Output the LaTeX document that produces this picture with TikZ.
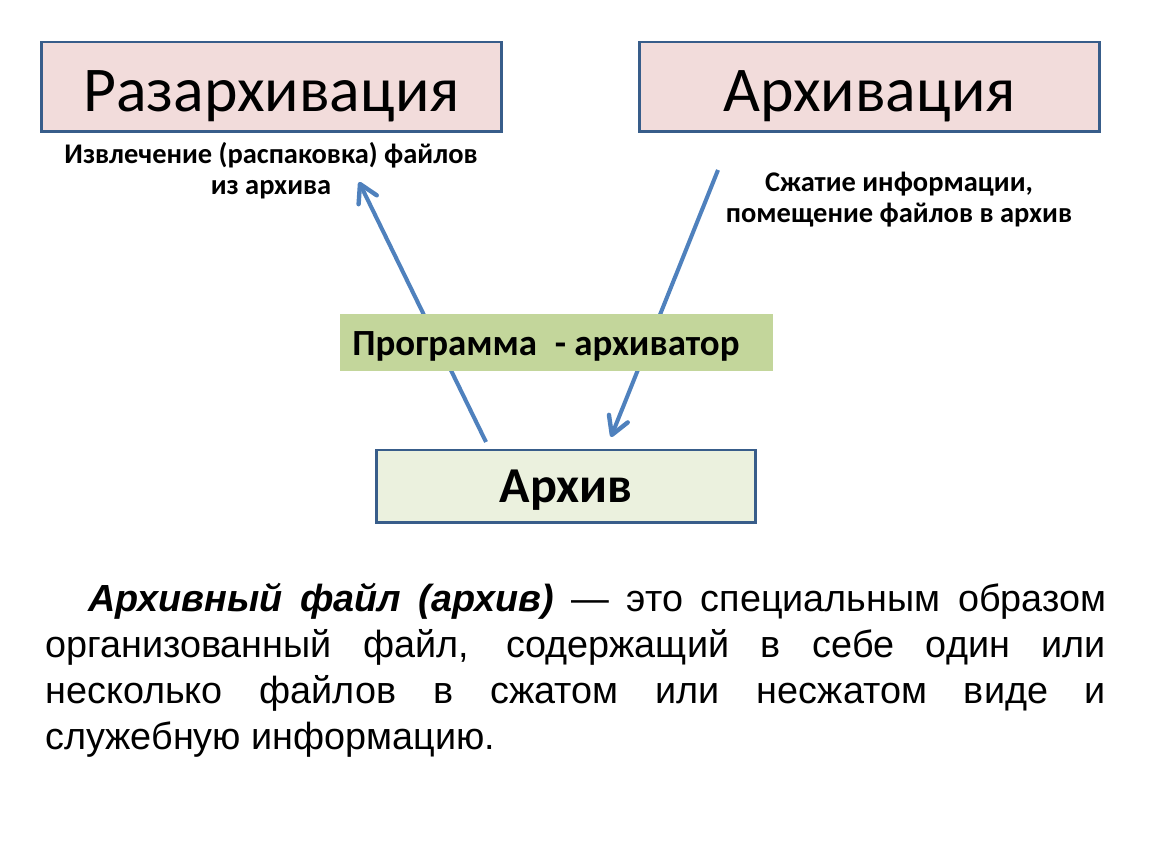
\documentclass[tikz,border=0pt]{standalone}
\usepackage{fontspec}
\setmainfont{Carlito}
\newfontfamily\arialf{Liberation Sans}
\usetikzlibrary{arrows.meta}
\definecolor{boxblue}{HTML}{385D8A}
\definecolor{pinkfill}{HTML}{F2DCDB}
\definecolor{greenfill}{HTML}{C3D69B}
\definecolor{palegreen}{HTML}{EBF1DE}
\definecolor{arrowblue}{HTML}{4F81BD}
\tikzset{
  titlebox/.style={draw=boxblue, line width=1.7pt, fill=pinkfill, minimum width=9.22cm, minimum height=1.8cm, inner sep=0pt},
  archbox/.style={draw=boxblue, line width=1.7pt, fill=palegreen, minimum width=7.6cm, minimum height=1.46cm, inner sep=0pt},
  progbox/.style={fill=greenfill, minimum width=8.66cm, minimum height=1.14cm, inner sep=0pt},
  titletext/.style={font=\fontsize{36.3}{44}\selectfont, inner sep=0pt, anchor=base},
  labeltext/.style={font=\fontsize{16.2}{17.9}\selectfont\bfseries, inner sep=0pt, align=center, anchor=base},
  flow/.style={draw=arrowblue, line width=2.3pt, -{Straight Barb[length=10pt,width=11.5pt,line width=2.5pt,round]}},
}
\begin{document}
\begin{tikzpicture}[x=0.02cm,y=-0.02cm]
\useasboundingbox (0,0) rectangle (1150,864);
\fill[white] (0,0) rectangle (1150,864);

% arrows (behind boxes)
\coordinate (l1) at (486,442);
\coordinate (l2) at (359,182);
\coordinate (r1) at (718,170);
\coordinate (r2) at (611,437);
\draw[flow] (l1) -- (l2);
\draw[flow] (r1) -- (r2);

% boxes
\node[titlebox] (unz) at (271.5,87) {};
\node[titletext] (unzt) at (271.5,112) {Разархивация};
\node[titlebox] (zip) at (869.5,87) {};
\node[titletext] (zipt) at (869.5,112) {Архивация};

\node[progbox] (prog) at (556.5,342.5) {};
\node[font=\fontsize{21}{24}\selectfont\bfseries, inner sep=0pt, anchor=base west] (progt) at (352,356) {Программа\hspace{0.25em} - архиватор};

\node[archbox] (arch) at (566,486.5) {};
\node[font=\fontsize{28.6}{34}\selectfont\bfseries, inner sep=0pt, anchor=base] (archt) at (566,503) {Архив};

% labels (anchor base = last line)
\node[labeltext] (lab1) at (271,195) {Извлечение (распаковка) файлов\\из архива};
\node[labeltext] (lab2) at (899,223) {Сжатие информации,\\помещение файлов в архив};

% paragraph
\node[inner sep=0pt, anchor=base west, text width=21.22cm, align=justify, font=\arialf\fontsize{21.5}{26.1}\selectfont] (para) at (45,612)
{\hspace*{0.86cm}\textbf{\textit{Архивный файл (архив)}} — это специальным образом\linebreak
организованный файл, содержащий в себе один или\linebreak
несколько файлов в сжатом или несжатом виде и\linebreak
служебную информацию.};
\end{tikzpicture}
\end{document}
